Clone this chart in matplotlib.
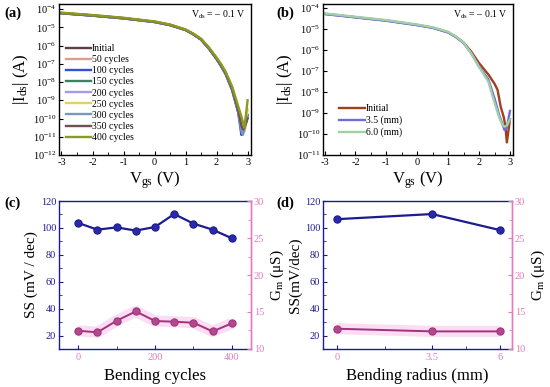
import matplotlib
matplotlib.use("Agg")
import matplotlib.pyplot as plt
import numpy as np
from matplotlib.ticker import LogLocator, MultipleLocator, NullLocator

plt.rcParams['font.family'] = ['Liberation Serif', 'DejaVu Serif']
plt.rcParams['mathtext.fontset'] = 'custom'
plt.rcParams['mathtext.rm'] = 'Liberation Serif'
plt.rcParams['mathtext.it'] = 'Liberation Serif:italic'
plt.rcParams['axes.linewidth'] = 1.0
plt.rcParams['axes.unicode_minus'] = False

# ---- data: transfer curves, log10(|Ids|)
vgs = [-3, -2, -1, 0, 0.5, 1, 1.25, 1.5, 1.75, 2, 2.15, 2.3, 2.5, 2.7, 2.8, 2.85, 2.9, 3.0]

cyc_labels = ['Initial', '50 cycles', '100 cycles', '150 cycles', '200 cycles',
              '250 cycles', '300 cycles', '350 cycles', '400 cycles']
cyc_colors = ['#5b3d4c', '#d9a08e', '#3550d0', '#3f8062', '#a898ea',
              '#e2d266', '#7a95c4', '#6d5252', '#8c9a22']
log_init = [-4.22, -4.35, -4.50, -4.70, -4.87, -5.14, -5.37, -5.66, -6.14, -6.71, -7.10, -7.54, -8.36, -9.56, -10.3, -10.6, -10.4, -9.9]
log_50 = [-4.21, -4.34, -4.49, -4.69, -4.86, -5.13, -5.36, -5.65, -6.13, -6.70, -7.08, -7.52, -8.33, -9.50, -10.2, -10.5, -10.7, -9.8]
log_100 = [-4.23, -4.36, -4.51, -4.71, -4.88, -5.15, -5.39, -5.68, -6.17, -6.75, -7.15, -7.60, -8.45, -9.70, -10.9, -10.7, -10.4, -9.9]
log_150 = [-4.22, -4.35, -4.50, -4.70, -4.87, -5.14, -5.37, -5.66, -6.15, -6.72, -7.12, -7.56, -8.40, -9.60, -10.6, -10.8, -10.3, -9.8]
log_200 = [-4.22, -4.35, -4.50, -4.70, -4.87, -5.14, -5.37, -5.66, -6.14, -6.71, -7.11, -7.55, -8.38, -9.58, -10.5, -10.7, -10.4, -9.9]
log_250 = [-4.20, -4.33, -4.48, -4.68, -4.85, -5.12, -5.35, -5.63, -6.10, -6.66, -7.04, -7.48, -8.28, -9.40, -10.0, -10.3, -10.6, -9.5]
log_300 = [-4.23, -4.36, -4.51, -4.71, -4.88, -5.15, -5.38, -5.67, -6.16, -6.73, -7.13, -7.58, -8.42, -9.65, -10.7, -10.9, -10.5, -9.9]
log_350 = [-4.22, -4.35, -4.50, -4.70, -4.87, -5.14, -5.37, -5.66, -6.14, -6.71, -7.11, -7.55, -8.37, -9.57, -10.4, -10.6, -10.5, -10.0]
log_400 = [-4.20, -4.33, -4.48, -4.68, -4.85, -5.12, -5.35, -5.63, -6.10, -6.66, -7.03, -7.47, -8.25, -9.35, -9.9, -10.2, -10.5, -9.0]
cyc_logs = [log_init, log_50, log_100, log_150, log_200, log_250, log_300, log_350, log_400]

vgs_b_init = [-3, -2, -1, 0, 0.5, 1, 1.25, 1.5, 1.75, 2, 2.3, 2.5, 2.6, 2.7, 2.8, 2.85, 2.9, 3.0]
log_b_init = [-4.27, -4.43, -4.59, -4.80, -4.93, -5.15, -5.36, -5.64, -6.08, -6.62, -7.16, -7.60, -7.90, -8.70, -9.20, -9.60, -10.4, -9.3]
vgs_b_bent = [-3, -2, -1, 0, 0.5, 1, 1.25, 1.5, 1.75, 2, 2.3, 2.5, 2.65, 2.75, 2.82, 2.9, 3.0]
log_b_35 = [-4.28, -4.44, -4.60, -4.81, -4.94, -5.16, -5.38, -5.66, -6.16, -6.78, -7.40, -8.30, -9.10, -9.50, -9.80, -9.70, -8.9]
log_b_60 = [-4.25, -4.41, -4.57, -4.78, -4.91, -5.13, -5.35, -5.64, -6.16, -6.80, -7.50, -8.50, -9.20, -9.55, -9.65, -9.60, -9.3]
rad_labels = ['Initial', '3.5 (mm)', '6.0 (mm)']
rad_colors = ['#a0401e', '#6d6ed6', '#9fd0a8']

# ---- data: SS and Gm
cycles = [0, 50, 100, 150, 200, 250, 300, 350, 400]
ss_cyc = [103.7, 98.7, 100.4, 98.0, 100.7, 110.3, 103.2, 98.7, 92.3]
gm_cyc = [12.47, 12.25, 13.82, 15.08, 13.78, 13.69, 13.55, 12.38, 13.46]

radius = [0, 3.5, 6]
ss_rad = [106.5, 110.3, 98.4]
gm_rad = [12.74, 12.38, 12.38]

navy = '#1c1c8e'
mauve = '#a3327c'
pink = '#e07cc0'
glow = '#f7bde8'

fig = plt.figure(figsize=(5.5, 3.87), dpi=100)
ax_a = fig.add_axes([0.1073, 0.5995, 0.3491, 0.3902])
ax_b = fig.add_axes([0.5873, 0.5995, 0.3455, 0.3902])
ax_c = fig.add_axes([0.1073, 0.0982, 0.3491, 0.3824])
ax_d = fig.add_axes([0.5873, 0.0982, 0.3436, 0.3824])


def iv_axes(ax, ymin, ymax):
    ax.set_yscale('log')
    ax.set_ylim(ymin, ymax)
    ax.yaxis.set_major_locator(LogLocator(base=10, numticks=20))
    ax.yaxis.set_minor_locator(NullLocator())
    ax.xaxis.set_major_locator(MultipleLocator(1))
    ax.xaxis.set_minor_locator(MultipleLocator(0.5))
    ax.tick_params(which='both', direction='in', labelsize=7.5, pad=2)
    ax.tick_params(which='major', length=3)
    ax.tick_params(which='minor', length=2)
    ax.set_xlabel(r'V$_{\mathrm{gs}}$ (V)', fontsize=12, labelpad=2)
    ax.set_ylabel(r'|I$_{\mathrm{ds}}$| (A)', fontsize=12, labelpad=1)
    ax.text(0.97, 0.93, r'V$_{\mathrm{ds}}$ = – 0.1 V', transform=ax.transAxes,
            ha='right', va='center', fontsize=7)


# (a)
for lab, col, lg in zip(cyc_labels, cyc_colors, cyc_logs):
    ax_a.plot(vgs, 10 ** np.array(lg), color=col, lw=1.7, label=lab)
ax_a.set_xlim(-3.08, 3.11)
iv_axes(ax_a, 1e-12, 10 ** -3.72)
ax_a.legend(loc='upper left', bbox_to_anchor=(0.0, 0.78), frameon=False,
            fontsize=7, handlelength=2.6, handletextpad=0.1, labelspacing=0.22,
            borderaxespad=0.3)

# (b)
ax_b.plot(vgs_b_init, 10 ** np.array(log_b_init), color=rad_colors[0], lw=1.7, label=rad_labels[0])
ax_b.plot(vgs_b_bent, 10 ** np.array(log_b_35), color=rad_colors[1], lw=1.7, label=rad_labels[1])
ax_b.plot(vgs_b_bent, 10 ** np.array(log_b_60), color=rad_colors[2], lw=1.7, label=rad_labels[2])
ax_b.set_xlim(-3.05, 3.1)
iv_axes(ax_b, 1e-11, 10 ** -3.8)
ax_b.legend(loc='upper left', bbox_to_anchor=(0.05, 0.38), frameon=False,
            fontsize=7, handlelength=2.6, handletextpad=0.1, labelspacing=0.25,
            borderaxespad=0.3)


def ss_gm_axes(ax, x, ss, gm, xlabel, ssl):
    ax.plot(x, ss, color=navy, lw=1.6, marker='o', ms=5.2, mfc='#2a2aa8',
            mec=navy, mew=0.8, zorder=3)
    ax.set_ylim(10, 120)
    ax.yaxis.set_major_locator(MultipleLocator(20))
    ax.yaxis.set_minor_locator(MultipleLocator(10))
    ax.tick_params(axis='y', which='both', direction='in', colors=navy, labelsize=7.5, pad=2)
    ax.tick_params(axis='x', which='both', direction='in', color=navy, labelcolor=pink,
                   labelsize=7.5, pad=3)
    ax.tick_params(which='major', length=3)
    ax.tick_params(which='minor', length=2)
    for s in ['left', 'top', 'bottom']:
        ax.spines[s].set_color(navy)
    ax.spines['right'].set_color(pink)
    ax.set_xlabel(xlabel, fontsize=12, labelpad=4)
    ax.set_ylabel(ssl, fontsize=11, labelpad=2)

    ax2 = ax.twinx()
    ax2.plot(x, gm, color=glow, lw=8, alpha=0.5, solid_capstyle='butt', zorder=1)
    ax2.plot(x, gm, color=mauve, lw=1.4, marker='o', ms=5.2, mfc='#b04a8c',
             mec=mauve, mew=0.8, zorder=3)
    ax2.set_ylim(10, 30)
    ax2.yaxis.set_major_locator(MultipleLocator(5))
    ax2.yaxis.set_minor_locator(MultipleLocator(2.5))
    ax2.tick_params(axis='y', which='both', direction='in', colors=pink, labelsize=7.5, pad=2)
    ax2.tick_params(which='major', length=3)
    ax2.tick_params(which='minor', length=2)
    for s in ['left', 'top', 'bottom']:
        ax2.spines[s].set_visible(False)
    ax2.spines['right'].set_color(pink)
    ax2.set_ylabel(r'G$_{\mathrm{m}}$ ($\mathrm{\mu}$S)', fontsize=11, labelpad=3)
    return ax2


ss_gm_axes(ax_c, cycles, ss_cyc, gm_cyc, 'Bending cycles', 'SS (mV / dec)')
ax_c.set_xlim(-50, 450)
ax_c.xaxis.set_major_locator(MultipleLocator(200))
ax_c.xaxis.set_minor_locator(MultipleLocator(100))

ss_gm_axes(ax_d, radius, ss_rad, gm_rad, 'Bending radius (mm)', 'SS(mV/dec)')
ax_d.set_xlim(-0.52, 6.45)
ax_d.set_xticks(radius)
ax_d.set_xticklabels(['0', '3.5', '6'])
ax_d.set_xticks([1.75, 4.75], minor=True)

for lab, (px, py) in zip(['(a)', '(b)', '(c)', '(d)'],
                         [(0.008, 0.965), (0.503, 0.965), (0.008, 0.475), (0.503, 0.475)]):
    fig.text(px, py, lab, fontsize=10.5, fontweight='bold', ha='left', va='center')

fig.savefig('out.png', dpi=100)
